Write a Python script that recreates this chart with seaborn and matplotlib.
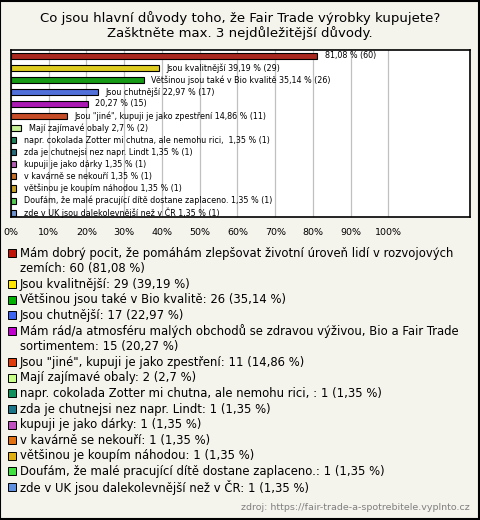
import matplotlib
matplotlib.use("Agg")
import matplotlib.pyplot as plt
import seaborn as sns
import pandas as pd
from matplotlib.patches import Rectangle

# data
full_names = [
    "Mám dobrý pocit, že pomáhám zlepšovat životní úroveň lidí v rozvojových\nzemích",
    "Jsou kvalitnější",
    "Většinou jsou také v Bio kvalitě",
    "Jsou chutnější",
    "Mám rád/a atmosféru malých obchodů se zdravou výživou, Bio a Fair Trade\nsortimentem",
    "Jsou \"jiné\", kupuji je jako zpestření",
    "Mají zajímavé obaly",
    "napr. cokolada Zotter mi chutna, ale nemohu rici, ",
    "zda je chutnejsi nez napr. Lindt",
    "kupuji je jako dárky",
    "v kavárně se nekouří",
    "většinou je koupím náhodou",
    "Doufám, že malé pracující dítě dostane zaplaceno.",
    "zde v UK jsou dalekolevnější než v ČR",
]
short_names = [
    "",
    "Jsou kvalitnější",
    "Většinou jsou také v Bio kvalitě",
    "Jsou chutnější",
    "",
    "Jsou \"jiné\", kupuji je jako zpestření",
    "Mají zajímavé obaly",
    "napr. cokolada Zotter mi chutna, ale nemohu rici, ",
    "zda je chutnejsi nez napr. Lindt",
    "kupuji je jako dárky",
    "v kavárně se nekouří",
    "většinou je koupím náhodou",
    "Doufám, že malé pracující dítě dostane zaplaceno.",
    "zde v UK jsou dalekolevnější než v ČR",
]
counts = [60, 29, 26, 17, 15, 11, 2, 1, 1, 1, 1, 1, 1, 1]
percents = [81.08, 39.19, 35.14, 22.97, 20.27, 14.86, 2.7, 1.35, 1.35, 1.35, 1.35, 1.35, 1.35, 1.35]
colors = ["#c01408", "#ffe600", "#00b000", "#3c64f0", "#c000cc", "#e03c0c", "#c8ff88",
          "#10905c", "#1c7488", "#c050c0", "#e07010", "#e0b010", "#40e040", "#6090e0"]

def fmt(p):
    return f"{p:g}".replace(".", ",")

bg = "#f4f3ec"
df = pd.DataFrame({"key": [str(i) for i in range(len(counts))], "pct": percents})

fig = plt.figure(figsize=(4.8, 5.2), dpi=100, facecolor=bg)
ax = fig.add_axes([11/480, 1 - 217/520, 459/480, 167/520])
ax.set_facecolor("white")

sns.barplot(data=df, x="pct", y="key", hue="key", palette=colors, legend=False,
            orient="h", width=0.5, edgecolor="black", linewidth=0.8, ax=ax, zorder=3)

for i, (p, c, s) in enumerate(zip(percents, counts, short_names)):
    txt = (s + " " if s else "") + f"{fmt(p)} % ({c})"
    ax.text(p + 2, i, txt, va="center", ha="left", fontsize=5.8, zorder=4)

ax.set_xlim(0, 121.6)
ax.set_ylim(13.36, -0.47)
ax.set_xticks(range(0, 101, 10))
ax.set_xticklabels([f"{t}%" for t in range(0, 101, 10)], fontsize=6.8)
ax.tick_params(axis="x", length=0, pad=8)
ax.set_yticks([])
ax.set_xlabel("")
ax.set_ylabel("")
ax.grid(axis="x", color="#c0c0c0", linewidth=0.9, zorder=0)
for sp in ax.spines.values():
    sp.set_color("black")
    sp.set_linewidth(1.2)

fig.text(0.5, 1 - 18/520, "Co jsou hlavní důvody toho, že Fair Trade výrobky kupujete?",
         ha="center", va="center", fontsize=9.5)
fig.text(0.5, 1 - 33/520, "Zašktněte max. 3 nejdůležitější důvody.",
         ha="center", va="center", fontsize=9.5)

# legend
y = 253
step = 15.6
for name, c, p, col in zip(full_names, counts, percents, colors):
    label = f"{name}: {c} ({fmt(p)} %)"
    fig.patches.append(Rectangle((8/480, 1 - (y + 4) / 520), 8/480, 8/520,
                                 transform=fig.transFigure, facecolor=col,
                                 edgecolor="black", linewidth=0.7))
    for line in label.split("\n"):
        fig.text(20/480, 1 - y/520, line, ha="left", va="center", fontsize=8.4)
        y += step

fig.text(470/480, 1 - 508/520, "zdroj: https://fair-trade-a-spotrebitele.vyplnto.cz",
         ha="right", va="center", fontsize=6.8, color="#808080")

fig.patches.append(Rectangle((0.001, 0.001), 0.997, 0.997, transform=fig.transFigure,
                             fill=False, edgecolor="black", linewidth=1.5))

fig.savefig("out.png", dpi=100, facecolor=bg)
